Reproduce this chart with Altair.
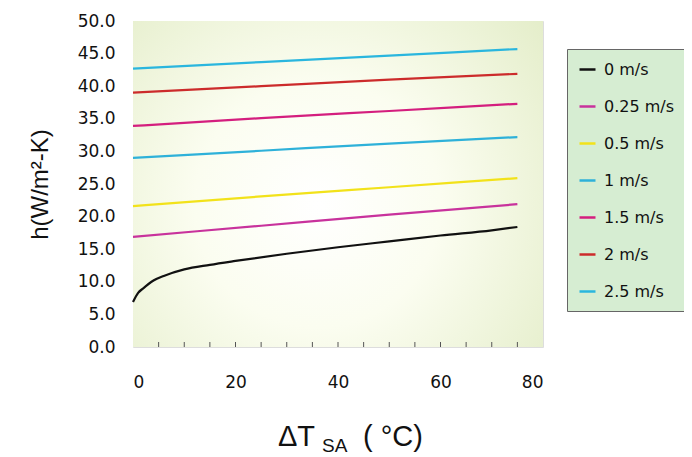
import altair as alt
import pandas as pd

series_names = ["0 m/s", "0.25 m/s", "0.5 m/s", "1 m/s", "1.5 m/s", "2 m/s", "2.5 m/s"]
series_colors = ["#111111", "#c8329c", "#f2e21a", "#2eb1d9", "#d41e7e", "#cc2b2b", "#2ab6de"]

x_black = [0, 1, 2, 4, 6, 10, 15, 20, 30, 40, 50, 60, 70, 75]
y_black = [6.9, 8.3, 9.0, 10.2, 10.9, 11.9, 12.6, 13.2, 14.3, 15.3, 16.2, 17.1, 17.9, 18.4]

x_lin = [0, 25, 50, 75]
y_025 = [16.9, 18.6, 20.3, 21.9]
y_05 = [21.6, 23.1, 24.5, 25.9]
y_1 = [29.0, 30.1, 31.2, 32.2]
y_15 = [33.9, 35.1, 36.2, 37.3]
y_2 = [39.0, 40.0, 41.0, 41.9]
y_25 = [42.7, 43.7, 44.7, 45.7]

x_label_values = [0, 20, 40, 60, 80]
x_minor_ticks = [5, 10, 15, 20, 25, 30, 35, 40, 45, 50, 55, 60, 65, 70, 75]
y_label_values = [0, 5, 10, 15, 20, 25, 30, 35, 40, 45, 50]

rows = []
for xv, yv in zip(x_black, y_black):
    rows.append({"dT": xv, "h": yv, "series": series_names[0]})
for name, ys in zip(series_names[1:], [y_025, y_05, y_1, y_15, y_2, y_25]):
    for xv, yv in zip(x_lin, ys):
        rows.append({"dT": xv, "h": yv, "series": name})
df = pd.DataFrame(rows)

W, H = 410, 326
FONT = "Liberation Sans"
LFONT = "DejaVu Sans"

xscale = alt.Scale(domain=[0, 80], nice=False)
yscale = alt.Scale(domain=[0, 50], nice=False)

bg = alt.Chart(alt.Data(values=[{}])).mark_rect(
    fill=alt.RadialGradient(
        gradient="radial",
        stops=[
            alt.GradientStop(color="#ffffff", offset=0),
            alt.GradientStop(color="#fbfdf0", offset=0.4),
            alt.GradientStop(color="#e2ecc6", offset=1),
        ],
        x1=0.45, y1=0.55, r1=0, x2=0.45, y2=0.55, r2=0.75,
    )
).encode(x=alt.value(0), x2=alt.value(W), y=alt.value(0), y2=alt.value(H))

lines = alt.Chart(df).mark_line(strokeWidth=2.2, interpolate="monotone").encode(
    x=alt.X("dT:Q", scale=xscale,
            axis=alt.Axis(values=x_label_values, ticks=False, domain=False, grid=False,
                          labelPadding=27, labelFontSize=17, labelFont=LFONT,
                          labelColor="#111", title=None)),
    y=alt.Y("h:Q", scale=yscale,
            axis=alt.Axis(values=y_label_values, format=".1f", ticks=False, domain=False,
                          grid=False, labelPadding=18, labelFontSize=17, labelFont=LFONT,
                          labelColor="#111", title="h(W/m²-K)", titleFontSize=24,
                          titleFont=FONT, titleFontWeight="normal", titleColor="#111",
                          titlePadding=25)),
    color=alt.Color("series:N", sort=series_names,
                    scale=alt.Scale(domain=series_names, range=series_colors),
                    legend=alt.Legend(title=None, orient="none", legendX=434, legendY=28,
                                      symbolType="stroke", symbolSize=256,
                                      symbolStrokeWidth=2.5, labelFont=LFONT,
                                      labelFontSize=16, labelColor="#111",
                                      rowPadding=19, padding=11, labelOffset=7,
                                      fillColor="#d6edd2", strokeColor="#666",
                                      labelLimit=200, symbolOffset=0)),
)

ticks_df = pd.DataFrame({"t": x_minor_ticks})
minor = alt.Chart(ticks_df).mark_rule(color="#555", strokeWidth=1).encode(
    x=alt.X("t:Q", scale=xscale), y=alt.value(H), y2=alt.value(H - 5)
)

t1 = alt.Chart(alt.Data(values=[{"s": "ΔT"}])).mark_text(
    font=FONT, fontSize=29, align="left", baseline="alphabetic", color="#111"
).encode(text="s:N", x=alt.value(145), y=alt.value(425))
t2 = alt.Chart(alt.Data(values=[{"s": "SA"}])).mark_text(
    font=FONT, fontSize=19, align="left", baseline="alphabetic", color="#111"
).encode(text="s:N", x=alt.value(189), y=alt.value(431))
t3 = alt.Chart(alt.Data(values=[{"s": "( °C)"}])).mark_text(
    font=FONT, fontSize=29, align="left", baseline="alphabetic", color="#111"
).encode(text="s:N", x=alt.value(230), y=alt.value(425))

chart = alt.layer(bg, minor, lines, t1, t2, t3).properties(
    width=W, height=H,
    autosize=alt.AutoSizeParams(type="none"),
    padding={"left": 125, "top": 13, "right": 141, "bottom": 110},
).configure_view(stroke="#888", strokeWidth=2).configure(background="white")

chart.save("out.html", embed_options={"renderer": "svg", "actions": False})
